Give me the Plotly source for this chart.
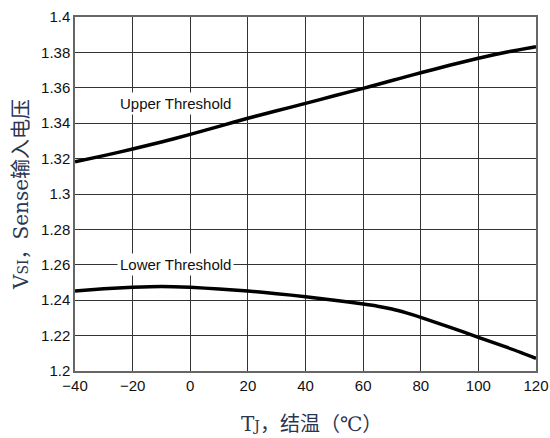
import plotly.graph_objects as go

temp = [-40, -30, -20, -10, 0, 10, 20, 30, 40, 50, 60, 65, 70, 75, 80, 90, 100, 110, 120]
upper = [1.3182, 1.3217, 1.3254, 1.3294, 1.3337, 1.3382, 1.3428, 1.3470, 1.3512, 1.3555, 1.3597, 1.3619, 1.3641, 1.3663, 1.3685, 1.3727, 1.3767, 1.3802, 1.3832]
lower = [1.2452, 1.2464, 1.2473, 1.2478, 1.2473, 1.2463, 1.2452, 1.2437, 1.2420, 1.2400, 1.2378, 1.2366, 1.2350, 1.2328, 1.2303, 1.2248, 1.2190, 1.2133, 1.2072]
x_ticks = [-40, -20, 0, 20, 40, 60, 80, 100, 120]
x_ticklabels = ["\u221240", "\u221220", "0", "20", "40", "60", "80", "100", "120"]
y_ticks = [1.2, 1.22, 1.24, 1.26, 1.28, 1.3, 1.32, 1.34, 1.36, 1.38, 1.4]
y_ticklabels = ["1.2", "1.22", "1.24", "1.26", "1.28", "1.3", "1.32", "1.34", "1.36", "1.38", "1.4"]

fig = go.Figure()
for ys in (upper, lower):
    fig.add_trace(go.Scatter(x=temp, y=ys, mode="lines",
                             line=dict(color="black", width=3.5, shape="spline", smoothing=0.6),
                             hoverinfo="skip"))

tickfont = dict(family="Liberation Sans, Arial", size=15, color="#111")
axis_common = dict(showgrid=True, gridcolor="#333", gridwidth=1, showline=True, linecolor="#666",
                   linewidth=1.5, mirror=True, ticks="", tickfont=tickfont, zeroline=False,
                   ticklabeloverflow="allow", automargin=False)
fig.update_xaxes(range=[-40, 120], tickvals=x_ticks, ticktext=x_ticklabels, **axis_common)
fig.update_yaxes(range=[1.2, 1.4], tickvals=y_ticks, ticktext=y_ticklabels, **axis_common)

annfont = dict(family="Liberation Sans, Arial", size=15, color="#111")
fig.add_annotation(x=-5, y=1.3514, text="Upper Threshold", showarrow=False, xref="x", yref="y",
                   font=annfont, bgcolor="white", borderpad=2)
fig.add_annotation(x=-5, y=1.26, text="Lower Threshold", showarrow=False, xref="x", yref="y",
                   font=annfont, bgcolor="white", borderpad=2)

L, R, T, B = 75, 14, 17, 67
pw, ph = 550 - L - R, 438 - T - B

def px2paper(px, py):
    return (px - L) / pw, 1 - (py - T) / ph

titlefont = dict(family="DejaVu Serif, Noto Sans CJK SC", size=20, color="#2a3550")
small = "<span style='font-size:14px'>%s</span>"
xt = px2paper(311, 424)
fig.add_annotation(x=xt[0], y=xt[1], xref="paper", yref="paper",
                   text="T" + small % "J" + "，结温（℃）",
                   showarrow=False, font=titlefont, xanchor="center", yanchor="middle")
yt = px2paper(21, 195)
fig.add_annotation(x=yt[0], y=yt[1], xref="paper", yref="paper",
                   text="V" + small % "SI" + "，Sense输入电压",
                   showarrow=False, textangle=-90, font=titlefont, xanchor="center", yanchor="middle")

fig.update_layout(width=550, height=438, margin=dict(l=L, r=R, t=T, b=B, autoexpand=False),
                  paper_bgcolor="white", plot_bgcolor="white", showlegend=False)

fig.write_html("out.html")
